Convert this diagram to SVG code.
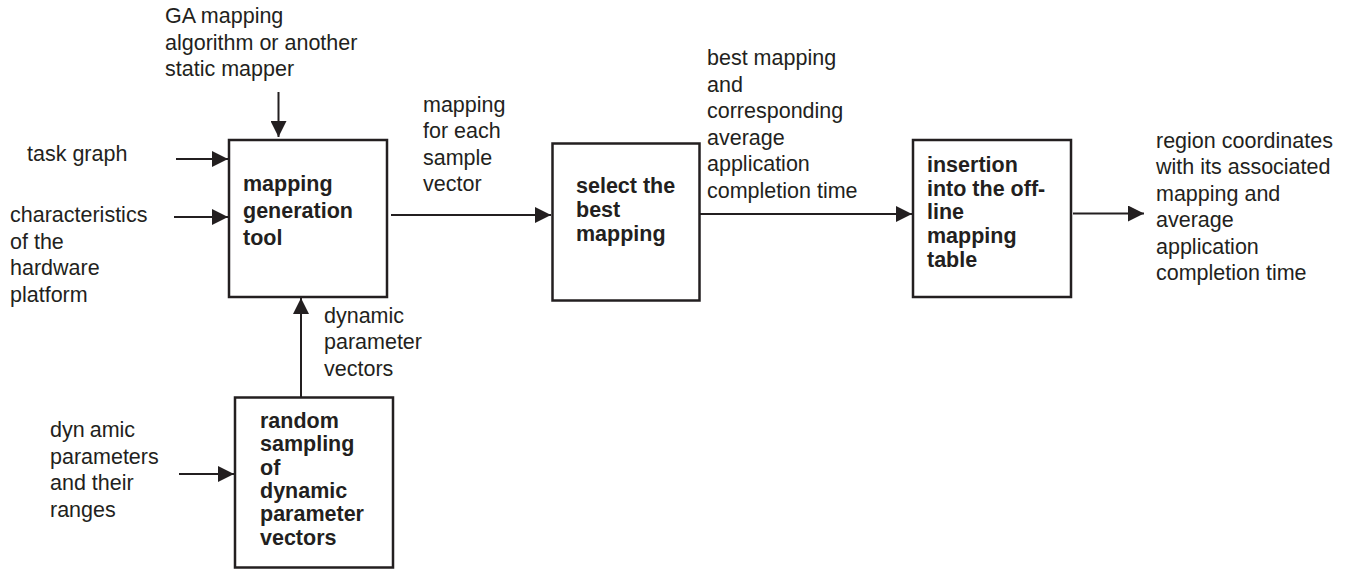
<svg xmlns="http://www.w3.org/2000/svg" width="1349" height="569" viewBox="0 0 1349 569">
<defs>
<marker id="ah" markerWidth="16" markerHeight="16" refX="16" refY="8" orient="auto" markerUnits="userSpaceOnUse">
<path d="M0,0 L16,8 L0,16 Z" fill="#231f20"/>
</marker>
<style>
text{font-family:"Liberation Sans",Arial,sans-serif;font-size:21.5px;fill:#231f20}
.b{font-weight:bold}
.box{fill:#fff;stroke:#231f20;stroke-width:2.5}
.c{stroke:#231f20;stroke-width:2;fill:none;marker-end:url(#ah)}
</style>
</defs>
<rect width="1349" height="569" fill="#fff"/>
<g id="connectors">
<line class="c" x1="278.5" y1="92" x2="278.5" y2="137"/>
<line class="c" x1="176" y1="159" x2="228" y2="159"/>
<line class="c" x1="174" y1="217" x2="228" y2="217"/>
<line class="c" x1="301" y1="397" x2="301" y2="298"/>
<line class="c" x1="179" y1="474" x2="234" y2="474"/>
<line class="c" x1="391" y1="215" x2="551" y2="215"/>
<line class="c" x1="700" y1="214" x2="912" y2="214"/>
<line class="c" x1="1073" y1="213.5" x2="1144" y2="213.5"/>
</g>
<g id="labels">
<text x="165" y="23"><tspan x="165">GA mapping</tspan><tspan x="165" dy="26.5">algorithm or another</tspan><tspan x="165" dy="26.5">static mapper</tspan></text>
<text x="27" y="161">task graph</text>
<text x="10" y="222"><tspan x="10">characteristics</tspan><tspan x="10" dy="26.5">of the</tspan><tspan x="10" dy="26.5">hardware</tspan><tspan x="10" dy="26.5">platform</tspan></text>
<text x="324" y="323"><tspan x="324">dynamic</tspan><tspan x="324" dy="26.3">parameter</tspan><tspan x="324" dy="26.3">vectors</tspan></text>
<text x="50" y="437"><tspan x="50">dyn</tspan><tspan dx="5">amic</tspan><tspan x="50" dy="26.5">parameters</tspan><tspan x="50" dy="26.5">and their</tspan><tspan x="50" dy="26.5">ranges</tspan></text>
<text x="423" y="112"><tspan x="423">mapping</tspan><tspan x="423" dy="26.4">for each</tspan><tspan x="423" dy="26.4">sample</tspan><tspan x="423" dy="26.4">vector</tspan></text>
<text x="707" y="65"><tspan x="707">best mapping</tspan><tspan x="707" dy="26.5">and</tspan><tspan x="707" dy="26.5">corresponding</tspan><tspan x="707" dy="26.5">average</tspan><tspan x="707" dy="26.5">application</tspan><tspan x="707" dy="26.5">completion time</tspan></text>
<text x="1156" y="148"><tspan x="1156">region coordinates</tspan><tspan x="1156" dy="26.4">with its associated</tspan><tspan x="1156" dy="26.4">mapping and</tspan><tspan x="1156" dy="26.4">average</tspan><tspan x="1156" dy="26.4">application</tspan><tspan x="1156" dy="26.4">completion time</tspan></text>
</g>
<g id="mapping-generation-tool">
<rect class="box" x="229" y="140" width="158" height="157"/>
<text class="b" x="243" y="191"><tspan x="243">mapping</tspan><tspan x="243" dy="26.5">generation</tspan><tspan x="243" dy="27.5">tool</tspan></text>
</g>
<g id="select-best-mapping">
<rect class="box" x="552.5" y="143.5" width="147" height="157"/>
<text class="b" x="576" y="193"><tspan x="576">select the</tspan><tspan x="576" dy="24">best</tspan><tspan x="576" dy="23.5">mapping</tspan></text>
</g>
<g id="insertion-table">
<rect class="box" x="913" y="140" width="158" height="157"/>
<text class="b" x="927" y="172"><tspan x="927">insertion</tspan><tspan x="927" dy="23.7">into the off-</tspan><tspan x="927" dy="23.7">line</tspan><tspan x="927" dy="23.7">mapping</tspan><tspan x="927" dy="23.7">table</tspan></text>
</g>
<g id="random-sampling">
<rect class="box" x="235" y="397.5" width="158" height="170"/>
<text class="b" x="260" y="428"><tspan x="260">random</tspan><tspan x="260" dy="23.3">sampling</tspan><tspan x="260" dy="23.3">of</tspan><tspan x="260" dy="23.3">dynamic</tspan><tspan x="260" dy="23.3">parameter</tspan><tspan x="260" dy="23.3">vectors</tspan></text>
</g>
</svg>
